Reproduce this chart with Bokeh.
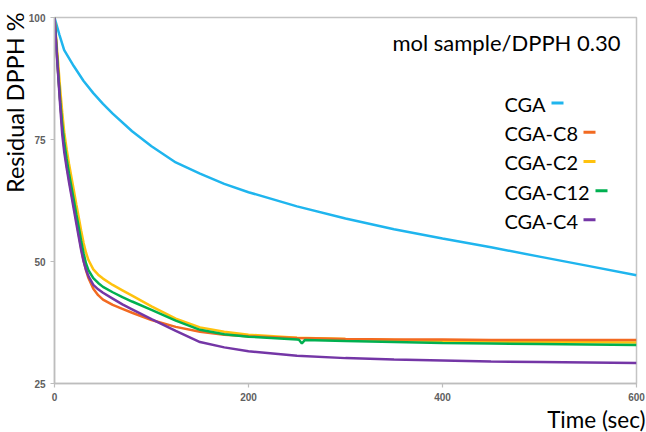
from bokeh.plotting import figure
from bokeh.models import Range1d, FixedTicker, Label, Title
from bokeh.embed import file_html
from bokeh.resources import INLINE

# ---------------- data ----------------
t_cga = [0, 5, 10, 20, 30, 40, 50, 60, 80, 100, 125, 150, 175, 200, 250, 300, 350, 400, 450, 500, 550, 600]
v_cga = [100, 96.5, 93.3, 90.0, 87.0, 84.5, 82.3, 80.3, 76.7, 73.6, 70.3, 68.0, 65.9, 64.2, 61.3, 58.8, 56.6, 54.7, 52.9, 51.0, 49.1, 47.2]

t_fast = [0, 2, 4, 6, 8, 10, 12.5, 15, 17.5, 20, 22.5, 25, 27.5, 30, 32.5, 35, 40, 45, 50, 60, 70, 80,
          100, 125, 150, 175, 200, 250, 300, 350, 400, 450, 500, 550, 600]
v_c8 = [100, 94, 88, 82.5, 77.5, 73.5, 69.8, 66.8, 64.0, 61.3, 58.5, 55.6, 52.7, 50.2, 48.2, 46.6, 44.4, 43.1,
        42.2, 41.1, 40.3, 39.5, 38.0, 36.6, 35.6, 35.0, 34.7, 34.3, 34.1, 34.0, 34.0, 33.9, 33.9, 33.9, 33.9]
v_c2 = [100, 95, 90, 85, 80.5, 76.5, 73.0, 70.0, 67.2, 64.5, 61.7, 59.0, 56.3, 53.8, 51.8, 50.3, 48.4, 47.3,
        46.5, 45.2, 44.1, 43.0, 40.8, 38.3, 36.5, 35.6, 35.0, 34.4, 34.1, 33.9, 33.7, 33.6, 33.5, 33.45, 33.4]
v_c4 = [100, 93.5, 87.5, 81.5, 76, 72.5, 69.2, 66.2, 63.4, 60.6, 57.8, 55.0, 52.3, 50.0, 48.3, 47.0, 45.2, 44.3,
        43.6, 42.4, 41.2, 40.2, 38.2, 35.8, 33.5, 32.4, 31.6, 30.7, 30.2, 29.9, 29.7, 29.5, 29.4, 29.3, 29.2]

t_c12 = [0, 2, 4, 6, 8, 10, 12.5, 15, 17.5, 20, 22.5, 25, 27.5, 30, 32.5, 35, 40, 45, 50, 60, 70, 80,
         100, 125, 150, 175, 200, 250, 252, 255, 258, 300, 350, 400, 450, 500, 550, 600]
v_c12 = [100, 94, 88, 82.5, 78, 74.5, 71.0, 68.0, 65.2, 62.5, 59.7, 57.0, 54.2, 51.7, 49.6, 48.2, 46.6, 45.6,
         44.8, 43.7, 42.7, 41.8, 40.1, 37.9, 36.0, 35.1, 34.6, 34.0, 33.95, 33.2, 33.9, 33.7, 33.5, 33.3,
         33.2, 33.1, 33.0, 32.9]

x_ticks = [0, 200, 400, 600]
y_ticks = [25, 50, 75, 100]

legend_names = ["CGA", "CGA-C8", "CGA-C2", "CGA-C12", "CGA-C4"]
colors = {"CGA": "#1FB5EE", "CGA-C8": "#F26A21", "CGA-C2": "#FFC20E",
          "CGA-C12": "#00B050", "CGA-C4": "#7436A6"}

# ---------------- layout helpers (image pixels -> data) ----------------
X0_PX, X1_PX = 54.0, 636.0
Y_TOP_PX, Y_BOT_PX = 17.0, 384.0
TEXT_SHIFT = 7  # empirical baseline correction


def px2x(px):
    return (px - X0_PX) / (X1_PX - X0_PX) * 600.0


def px2y(py):
    return 100.0 - (py - Y_TOP_PX) / (Y_BOT_PX - Y_TOP_PX) * 75.0


p = figure(width=646, height=432, x_range=Range1d(0, 600), y_range=Range1d(25, 100),
           output_backend="svg", toolbar_location=None,
           min_border_left=54, min_border_right=10, min_border_top=17, min_border_bottom=48)
p.grid.visible = False
p.outline_line_color = "#c4c4c4"
p.outline_line_width = 1.5
p.background_fill_color = "white"
p.border_fill_color = "white"

for ax in (p.xaxis[0], p.yaxis[0]):
    ax.axis_line_color = "#bdbdbd"
    ax.axis_line_width = 1.5
    ax.major_tick_line_color = "#bdbdbd"
    ax.major_tick_line_width = 1.2
    ax.major_tick_out = 4
    ax.major_tick_in = 0
    ax.minor_tick_line_color = None
    ax.major_label_text_font = "Liberation Sans"
    ax.major_label_text_font_style = "bold"
    ax.major_label_text_font_size = "10px"
    ax.major_label_text_color = "#606060"
p.xaxis.major_label_standoff = 5
p.yaxis.major_label_standoff = 5
p.xaxis.ticker = FixedTicker(ticks=x_ticks)
p.yaxis.ticker = FixedTicker(ticks=y_ticks)

FONT = "Lato"

p.add_layout(Title(text="Time (sec)", align="right", text_font=FONT, text_font_size="22.5px",
                   text_font_style="normal", text_color="black", standoff=0, offset=-9), "below")
p.add_layout(Title(text="Residual DPPH %", align="right", text_font=FONT, text_font_size="23.5px",
                   text_font_style="normal", text_color="black", standoff=-7, offset=-5), "left")

lw = 2.5
p.line(t_cga, v_cga, line_color=colors["CGA"], line_width=lw)
p.line(t_fast, v_c2, line_color=colors["CGA-C2"], line_width=lw)
p.line(t_fast, v_c8, line_color=colors["CGA-C8"], line_width=lw)
p.line(t_c12, v_c12, line_color=colors["CGA-C12"], line_width=lw)
p.line(t_fast, v_c4, line_color=colors["CGA-C4"], line_width=lw)

# annotation text
p.add_layout(Label(x=px2x(620), y=px2y(49 - TEXT_SHIFT), text="mol sample/DPPH 0.30", text_align="right",
                   text_baseline="alphabetic", text_font=FONT, text_font_size="22px", text_color="black"))

# manual legend: text then a short coloured dash
legend_x_px = 504
legend_base_px = 110.7
legend_step_px = 29.3
dash_start_px = {"CGA": 551, "CGA-C8": 583, "CGA-C2": 583, "CGA-C12": 595, "CGA-C4": 583}
for i, name in enumerate(legend_names):
    by = legend_base_px + i * legend_step_px
    p.add_layout(Label(x=px2x(legend_x_px), y=px2y(by - TEXT_SHIFT), text=name, text_align="left",
                       text_baseline="alphabetic", text_font=FONT, text_font_size="20px",
                       text_color="black"))
    dy = px2y(by - 8)
    p.segment(x0=[px2x(dash_start_px[name])], y0=[dy], x1=[px2x(dash_start_px[name] + 12)], y1=[dy],
              line_color=colors[name], line_width=3)

open("out.html", "w").write(file_html(p, INLINE))
